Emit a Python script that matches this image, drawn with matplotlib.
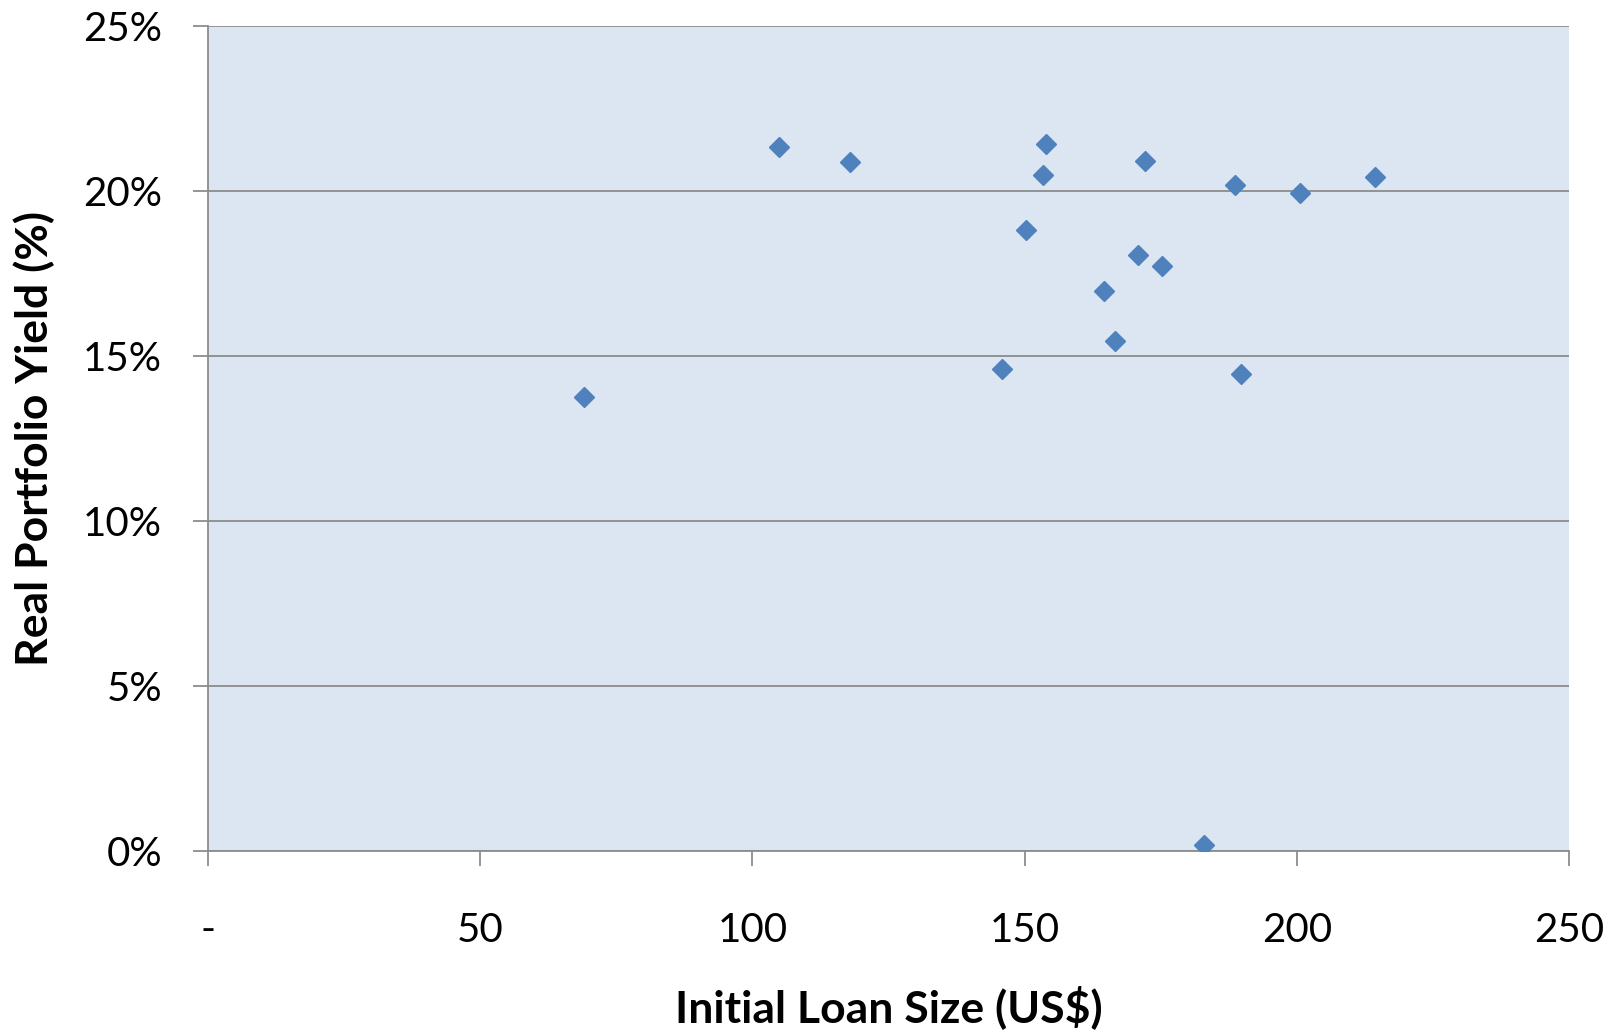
import matplotlib.pyplot as plt
from matplotlib.ticker import FixedLocator, FuncFormatter

# initial loan size (US$) vs real portfolio yield (%)
loan_size = [69.0, 104.8, 118.0, 145.8, 150.3, 153.4, 153.9, 164.5, 166.6,
             170.8, 172.1, 175.3, 182.9, 188.7, 189.7, 200.6, 214.4]
yield_pct = [13.75, 21.32, 20.89, 14.62, 18.83, 20.48, 21.42, 16.96, 15.46,
             18.05, 20.92, 17.74, 0.19, 20.17, 14.46, 19.95, 20.42]

x_ticks = [0, 50, 100, 150, 200, 250]
y_ticks = [0, 5, 10, 15, 20, 25]

plt.rcParams['font.family'] = ['Lato', 'DejaVu Sans']

fig = plt.figure(figsize=(16.14, 10.32), dpi=100)
ax = fig.add_axes([208 / 1614, 1 - 851 / 1032, (1569 - 208) / 1614, (851 - 26) / 1032])
ax.set_facecolor('#dce6f2')

ax.plot(loan_size, yield_pct, linestyle='none', marker='D', markersize=10,
        color='#4f81bd', zorder=3)

ax.set_xlim(0, 250)
ax.set_ylim(0, 25)
ax.xaxis.set_major_locator(FixedLocator(x_ticks))
ax.yaxis.set_major_locator(FixedLocator(y_ticks))
ax.xaxis.set_major_formatter(FuncFormatter(lambda v, p: '-' if v == 0 else f'{v:.0f}'))
ax.yaxis.set_major_formatter(FuncFormatter(lambda v, p: f'{v:.0f}%'))

ax.grid(axis='y', color='#8c8c8c', linewidth=1.3, zorder=1)
ax.set_axisbelow(True)

for side in ['top', 'right']:
    ax.spines[side].set_visible(False)
for side in ['left', 'bottom']:
    ax.spines[side].set_color('#8c8c8c')
    ax.spines[side].set_linewidth(1.3)

ax.tick_params(axis='both', direction='out', length=11, width=1.3, color='#8c8c8c',
               labelsize=29, labelcolor='black')
ax.tick_params(axis='x', pad=33)
ax.tick_params(axis='y', pad=22)

ax.set_xlabel('Initial Loan Size (US$)', fontsize=32, fontweight='bold', labelpad=26)
ax.set_ylabel('Real Portfolio Yield (%)', fontsize=32, fontweight='bold', labelpad=20)

fig.savefig('out.png', dpi=100)
